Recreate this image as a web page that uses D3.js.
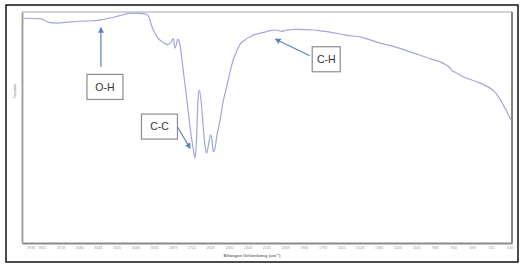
<!DOCTYPE html>
<html>
<head>
<meta charset="utf-8">
<script src="https://cdn.jsdelivr.net/npm/d3@7"></script>
<style>
  body { margin: 0; background: #fff; }
  svg { display: block; font-family: "Liberation Sans", Arial, sans-serif; }
</style>
</head>
<body>
<div id="chart"></div>
<script>
// FTIR spectrum (transmittance vs wavenumber)
var wavenumber = [4000, 3868, 3794, 3743, 3647, 3574, 3500, 3427, 3353, 3280, 3207, 3133, 3089, 3067,
  3045, 3008, 2964, 2927, 2905, 2888, 2876, 2865, 2856, 2839, 2825, 2802, 2780, 2758, 2741, 2729,
  2718, 2707, 2698, 2685, 2670, 2656, 2643, 2630, 2614, 2604, 2595, 2582, 2567, 2545, 2523, 2496,
  2472, 2448, 2425, 2399, 2362, 2325, 2288, 2251, 2215, 2178, 2134, 2090, 2068, 2031, 1987, 1921,
  1862, 1803, 1737, 1620, 1495, 1370, 1252, 1127, 1002, 885, 856, 841, 819, 760, 630, 518, 444, 407];
var transmittance = [97.3, 97.1, 95.4, 95.2, 95.7, 96.0, 96.1, 96.5, 97.4, 98.4, 99.4, 99.4, 99.1, 97.8,
  93.6, 89.2, 86.8, 85.9, 87.0, 88.5, 84.4, 86.1, 88.3, 85.7, 79.2, 68.4, 57.6, 46.8, 40.3, 36.8,
  44.6, 61.9, 66.2, 61.9, 51.1, 42.4, 39.0, 42.4, 46.8, 44.6, 39.5, 41.1, 46.8, 53.2, 61.0, 67.7,
  74.0, 79.2, 82.7, 85.9, 87.9, 89.3, 90.3, 90.8, 91.3, 91.9, 92.2, 91.6, 92.0, 92.3, 92.5, 92.4,
  92.2, 91.8, 91.3, 90.0, 88.9, 86.5, 84.8, 82.3, 79.8, 77.1, 75.8, 74.6, 74.0, 72.0, 69.1, 64.8, 57.6, 53.2];

// tick labels on the wavenumber axis
var xTickValues = [3936, 3855, 3718, 3580, 3443, 3305, 3168, 3030, 2893, 2755, 2618, 2480, 2343, 2205,
  2068, 1930, 1793, 1655, 1518, 1380, 1243, 1105, 968, 830, 693, 555, 418];

// band annotations: label, where the arrow points (wavenumber, %T)
var bandLabels = ["O-H", "C-C", "C-H"];
var bandWavenumber = [3420, 2766, 2136];
var bandT = [93.1, 41.1, 88.2];

var svgWidth = 526;
var svgHeight = 266;

var svg = d3.select("#chart")
  .append("svg")
  .attr("width", svgWidth)
  .attr("height", svgHeight);

// outer black frame
svg.append("rect")
  .attr("x", 6)
  .attr("y", 5)
  .attr("width", 512)
  .attr("height", 257)
  .attr("fill", "none")
  .attr("stroke", "#111")
  .attr("stroke-width", 1.5);

var x = d3.scaleLinear().domain([4000, 400]).range([22, 512]);
var y = d3.scaleLinear().domain([0, 100]).range([243, 12]);

// plot area border (top + right)
svg.append("line")
  .attr("x1", x(4000)).attr("x2", x(400))
  .attr("y1", y(100)).attr("y2", y(100))
  .attr("stroke", "#c4c4c4").attr("stroke-width", 1.6);
svg.append("line")
  .attr("x1", x(400)).attr("x2", x(400))
  .attr("y1", y(100)).attr("y2", y(0))
  .attr("stroke", "#777").attr("stroke-width", 1.8);

// axes
var bottomAxis = d3.axisBottom(x)
  .tickValues(xTickValues)
  .tickSize(0)
  .tickPadding(3)
  .tickFormat(d3.format("d"));

var xAxis = svg.append("g")
  .attr("transform", `translate(0, ${y(0)})`)
  .call(bottomAxis);
xAxis.select(".domain").attr("stroke", "#8a8a8a").attr("stroke-width", 1.8);
xAxis.selectAll("text")
  .attr("font-size", "3.6px")
  .attr("fill", "#999");

var leftAxis = d3.axisLeft(y).tickValues([]).tickSizeOuter(0);
var yAxis = svg.append("g")
  .attr("transform", `translate(${x(4000)}, 0)`)
  .call(leftAxis);
yAxis.select(".domain").attr("stroke", "#9a9a9a").attr("stroke-width", 1.8);

// axis titles
svg.append("text")
  .attr("x", 252)
  .attr("y", 257)
  .attr("text-anchor", "middle")
  .attr("font-size", "4.4px")
  .attr("font-weight", "bold")
  .attr("fill", "#777")
  .text("Bilangan Gelombang (cm\u207B\u00B9)");

svg.append("text")
  .attr("transform", "translate(16, 91) rotate(-90)")
  .attr("text-anchor", "middle")
  .attr("font-size", "3px")
  .attr("fill", "#777")
  .text("Transmitan");

// spectrum line
var spectrum = wavenumber.map((d, i) => ({ wn: d, t: transmittance[i] }));
var line = d3.line()
  .x(d => x(d.wn))
  .y(d => y(d.t))
  .curve(d3.curveMonotoneX);

svg.append("path")
  .datum(spectrum)
  .attr("d", line)
  .attr("fill", "none")
  .attr("stroke", "#a3a6da")
  .attr("stroke-width", 1.2);

// arrow marker
svg.append("defs").append("marker")
  .attr("id", "arrow")
  .attr("viewBox", "0 0 10 10")
  .attr("refX", 8)
  .attr("refY", 5)
  .attr("markerWidth", 5)
  .attr("markerHeight", 5)
  .attr("orient", "auto")
  .append("path")
  .attr("d", "M0,0 L10,5 L0,10 z")
  .attr("fill", "#5b82bd");

// box placement relative to the arrow tip (px): box center, box width, arrow tail
var boxLayout = [
  { dx: 4, dy: 59, w: 36, tx: 0, ty: 39 },
  { dx: -30.5, dy: -21.5, w: 36, tx: -12.7, ty: -21.5 },
  { dx: 50.5, dy: 20, w: 28, tx: 34, ty: 16.5 }
];
var boxH = 25;

bandLabels.forEach(function(label, i) {
  var px = x(bandWavenumber[i]);
  var py = y(bandT[i]);
  var b = boxLayout[i];

  svg.append("line")
    .attr("x1", px + b.tx).attr("y1", py + b.ty)
    .attr("x2", px).attr("y2", py)
    .attr("stroke", "#5b82bd")
    .attr("stroke-width", 1.2)
    .attr("marker-end", "url(#arrow)");

  svg.append("rect")
    .attr("x", px + b.dx - b.w / 2)
    .attr("y", py + b.dy - boxH / 2)
    .attr("width", b.w)
    .attr("height", boxH)
    .attr("fill", "#fff")
    .attr("stroke", "#8c8c8c")
    .attr("stroke-width", 1.2);

  svg.append("text")
    .attr("x", px + b.dx)
    .attr("y", py + b.dy + 3.8)
    .attr("text-anchor", "middle")
    .attr("font-size", "10.5px")
    .attr("fill", "#333")
    .text(label);
});
</script>
</body>
</html>
